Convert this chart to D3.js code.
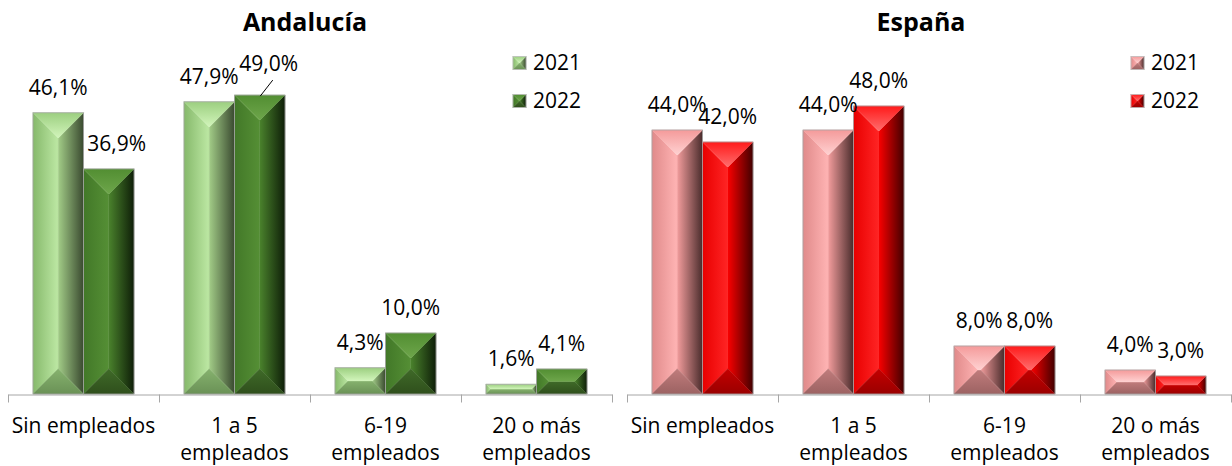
<!DOCTYPE html>
<html>
<head>
<meta charset="utf-8">
<script src="https://cdn.jsdelivr.net/npm/d3@7/dist/d3.min.js"></script>
<style>
  html, body { margin: 0; padding: 0; background: #fff; }
  svg { display: block; font-family: "Open Sans", "Noto Sans", sans-serif; }
</style>
</head>
<body>
<svg id="chart" width="1232" height="466"></svg>
<script>
// Categories, series and tick labels
const categories = ["Sin empleados", "1 a 5 empleados", "6-19 empleados", "20 o más empleados"];
const years = ["2021", "2022"];
const andalucia2021 = [46.1, 47.9, 4.3, 1.6];
const andalucia2022 = [36.9, 49.0, 10.0, 4.1];
const espana2021 = [44.0, 44.0, 8.0, 4.0];
const espana2022 = [42.0, 48.0, 8.0, 3.0];
const tickLabels = [["Sin empleados"], ["1 a 5", "empleados"], ["6-19", "empleados"], ["20 o más", "empleados"]];
const panelTitles = ["Andalucía", "España"];

// Bevelled fill shades per series: top, left, right, bottom (each from -> to)
const shades = {
  andalucia2021: { top: ["#9ccf80", "#d2f5bb"], left: ["#86b96b", "#bde8a4"], right: ["#a2cc87", "#3a4a30"], bottom: ["#86b26e", "#6a9156"] },
  andalucia2022: { top: ["#528e32", "#6ea64b"], left: ["#427828", "#558f35"], right: ["#4a822c", "#0e1e08"], bottom: ["#3f6a28", "#2f4f1c"] },
  espana2021:    { top: ["#f49a9a", "#ffd2d2"], left: ["#e08a8a", "#ffb4b4"], right: ["#f29c9c", "#4a2c2c"], bottom: ["#c07c7c", "#9c6262"] },
  espana2022:    { top: ["#ff1a1a", "#ff6e6e"], left: ["#e80000", "#ff2424"], right: ["#fa0000", "#420000"], bottom: ["#c40000", "#9a0000"] }
};

const svg = d3.select("#chart");
const defs = svg.append("defs");

// linear gradients for every face of every series
Object.entries(shades).forEach(([key, s]) => {
  const dirs = { top: [0, 0, 0, 1], bottom: [0, 0, 0, 1], left: [0, 0, 1, 0], right: [0, 0, 1, 0] };
  Object.entries(dirs).forEach(([face, d]) => {
    const g = defs.append("linearGradient")
      .attr("id", `g-${key}-${face}`)
      .attr("x1", d[0]).attr("y1", d[1]).attr("x2", d[2]).attr("y2", d[3]);
    g.append("stop").attr("offset", 0).attr("stop-color", s[face][0]);
    g.append("stop").attr("offset", 1).attr("stop-color", s[face][1]);
  });
});

// Draws a bevelled block: four faces meeting on an inner rectangle
function bevel(sel, key, x, y, w, h, stroke) {
  const d = Math.min(w / 2, h / 2);
  const g = sel.append("g");
  const faces = {
    top:    [[x, y], [x + w, y], [x + w - d, y + d], [x + d, y + d]],
    bottom: [[x, y + h], [x + w, y + h], [x + w - d, y + h - d], [x + d, y + h - d]],
    left:   [[x, y], [x + d, y + d], [x + d, y + h - d], [x, y + h]],
    right:  [[x + w, y], [x + w - d, y + d], [x + w - d, y + h - d], [x + w, y + h]]
  };
  ["left", "right", "bottom", "top"].forEach(f => {
    g.append("polygon")
      .attr("points", faces[f].map(p => p.join(",")).join(" "))
      .attr("fill", `url(#g-${key}-${f})`)
      .attr("stroke", `url(#g-${key}-${f})`)
      .attr("stroke-width", 0.4);
  });
  g.append("rect").attr("x", x).attr("y", y).attr("width", w).attr("height", h)
    .attr("fill", "none").attr("stroke", stroke).attr("stroke-width", 0.8);
  return g;
}

const fmt = v => d3.format(".1f")(v).replace(".", ",") + "%";

const panels = [
  { title: panelTitles[0], series: [andalucia2021, andalucia2022], keys: ["andalucia2021", "andalucia2022"],
    xRange: [8, 612], yTop: 28, titleX: 305, legendX: 513,
    labelShift: {
      "Sin empleados|2022": { dx: 8, dy: 0 },
      "1 a 5 empleados|2022": { dx: 9, dy: -6, leader: true }
    } },
  { title: panelTitles[1], series: [espana2021, espana2022], keys: ["espana2021", "espana2022"],
    xRange: [627, 1231], yTop: 34, titleX: 921, legendX: 1131, labelShift: {} }
];

const baseY = 394;
const fontSize = 21;

panels.forEach(p => {
  const gp = svg.append("g");
  const x0 = d3.scaleBand().domain(categories).range(p.xRange);
  const x1 = d3.scaleBand().domain(years).range([25, x0.bandwidth() - 25]);
  const y = d3.scaleLinear().domain([0, 60]).range([baseY, p.yTop]);

  // title
  gp.append("text").attr("x", p.titleX).attr("y", 31)
    .attr("text-anchor", "middle").attr("font-size", 25).attr("font-weight", 700)
    .attr("fill", "#000").text(p.title);

  // bars
  categories.forEach((c, i) => {
    years.forEach((yr, j) => {
      const v = p.series[j][i];
      const bx = x0(c) + x1(yr);
      const by = y(v);
      bevel(gp, p.keys[j], bx, by, x1.bandwidth(), baseY - by, "#a6a6a6");
    });
  });

  // axis with category labels
  const axis = d3.axisBottom(x0).tickSizeInner(0).tickSizeOuter(0).tickPadding(0).tickFormat("");
  const ga = gp.append("g").attr("transform", `translate(0,${baseY + 0.5})`).call(axis);
  ga.select(".domain").attr("stroke", "#a6a6a6").attr("stroke-width", 1);
  ga.selectAll(".tick").each(function (c, i) {
    const t = d3.select(this).select("text")
      .attr("y", 0).attr("dy", null)
      .attr("font-size", fontSize).attr("fill", "#000").attr("font-family", "Open Sans, sans-serif");
    tickLabels[i].forEach((line, k) => {
      t.append("tspan").attr("x", 0).attr("y", 38.5 + k * 27).text(line);
    });
  });
  // tick marks between categories
  const edges = categories.map(c => x0(c)).concat([p.xRange[1]]);
  ga.selectAll("line.edge").data(edges).join("line").attr("class", "edge")
    .attr("x1", d => Math.round(d) + 0.5).attr("x2", d => Math.round(d) + 0.5)
    .attr("y1", 0).attr("y2", 8).attr("stroke", "#a6a6a6").attr("stroke-width", 1);

  // value labels
  categories.forEach((c, i) => {
    years.forEach((yr, j) => {
      const v = p.series[j][i];
      const cx = x0(c) + x1(yr) + x1.bandwidth() / 2;
      const top = y(v);
      const s = p.labelShift[`${c}|${yr}`] || { dx: 0, dy: 0 };
      const lx = cx + s.dx, ly = top - 18 + s.dy;
      gp.append("text").attr("x", lx).attr("y", ly).attr("text-anchor", "middle")
        .attr("font-size", fontSize).attr("fill", "#000").text(fmt(v));
      if (s.leader) {
        gp.append("line").attr("x1", cx + 0.5).attr("y1", top + 1)
          .attr("x2", cx + 13).attr("y2", ly + 9)
          .attr("stroke", "#000").attr("stroke-width", 1);
      }
    });
  });

  // legend
  years.forEach((yr, j) => {
    const ly = 63 + j * 38;
    bevel(gp, p.keys[j], p.legendX, ly - 6.5, 13, 13, "#bfbfbf");
    gp.append("text").attr("x", p.legendX + 20).attr("y", ly + 7)
      .attr("font-size", fontSize).attr("fill", "#000").text(yr);
  });
});
</script>
</body>
</html>
